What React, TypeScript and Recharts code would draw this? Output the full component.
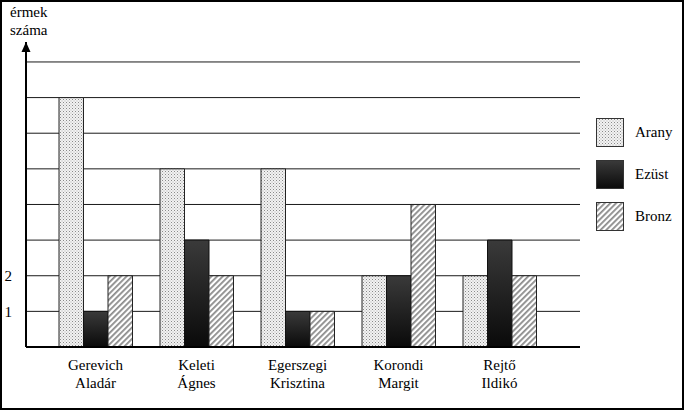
import React from "react";
import { BarChart, Bar, XAxis, YAxis, CartesianGrid } from "recharts";

const names = ["Gerevich\nAladár", "Keleti\nÁgnes", "Egerszegi\nKrisztina", "Korondi\nMargit", "Rejtő\nIldikó"];
const arany = [7, 5, 5, 2, 2];
const ezust = [1, 3, 1, 2, 3];
const bronz = [2, 2, 1, 4, 2];
const yTicks = [1, 2, 3, 4, 5, 6, 7, 8];
const shownTicks = [1, 2];

const data = names.map((name, i) => ({ name, arany: arany[i], ezust: ezust[i], bronz: bronz[i] }));

const FONT = "Liberation Serif, Times New Roman, serif";

const Patterns = ({ p }: { p: string }) => (
  <defs>
    <pattern id={p + "dots"} width="3" height="3" patternUnits="userSpaceOnUse">
      <rect width="3" height="3" fill="#f2f2f2" />
      <rect x="0" y="0" width="1" height="1" fill="#8a8a8a" />
      <rect x="1.5" y="1.5" width="1" height="1" fill="#b0b0b0" />
    </pattern>
    <linearGradient id={p + "dark"} x1="0" y1="0" x2="0" y2="1">
      <stop offset="0%" stopColor="#3a3a3a" />
      <stop offset="100%" stopColor="#0a0a0a" />
    </linearGradient>
    <pattern id={p + "stripes"} width="4" height="4" patternUnits="userSpaceOnUse" patternTransform="rotate(45)">
      <rect width="4" height="4" fill="#ffffff" />
      <rect x="0" y="0" width="1.8" height="4" fill="#8c8c8c" />
    </pattern>
  </defs>
);

const NameTick = (props: any) => {
  const { x, y, payload } = props;
  const lines = String(payload.value).split("\n");
  return (
    <text x={x} y={y} textAnchor="middle" style={{ fontFamily: FONT }} fontSize={15} fill="#000">
      {lines.map((l, i) => (
        <tspan key={i} x={x} dy={i === 0 ? 15 : 18}>
          {l}
        </tspan>
      ))}
    </text>
  );
};

const AxisHead = (props: any) => {
  const vb = props.viewBox || {};
  const ax = vb.x + vb.width;
  const top = vb.y;
  return (
    <g>
      <polygon points={`${ax},${top} ${ax - 4.5},${top + 10} ${ax + 4.5},${top + 10}`} fill="#000" />
      <text x={10} y={17} style={{ fontFamily: FONT }} fontSize={15} fill="#000">érmek</text>
      <text x={10} y={35} style={{ fontFamily: FONT }} fontSize={15} fill="#000">száma</text>
    </g>
  );
};

const legendItems = [
  { label: "Arany", fill: "url(#lgdots)" },
  { label: "Ezüst", fill: "url(#lgdark)" },
  { label: "Bronz", fill: "url(#lgstripes)" },
];

const LegendBox = () => (
  <svg width={90} height={130} style={{ display: "block" }}>
    <Patterns p="lg" />
    {legendItems.map((it, i) => (
      <g key={it.label} transform={`translate(0, ${i * 42})`}>
        <rect x={6.5} y={8.5} width={27} height={28} fill={it.fill} stroke="#333" strokeWidth={1} />
        <text x={45} y={27} style={{ fontFamily: FONT }} fontSize={15} fill="#000">{it.label}</text>
      </g>
    ))}
  </svg>
);

export default function App() {
  return (
    <div style={{ position: "absolute", left: 0, top: 0, width: 684, height: 410, background: "#fff", fontFamily: FONT }}>
      <BarChart
        width={684}
        height={410}
        data={data}
        margin={{ top: 42, right: 104, bottom: 3, left: 0 }}
        barGap={0}
        barSize={24.5}
      >
        <Patterns p="ch" />
        <CartesianGrid vertical={false} horizontalValues={yTicks} stroke="#1a1a1a" strokeWidth={1} />
        <XAxis
          dataKey="name"
          interval={0}
          height={60}
          padding={{ left: 19, right: 30 }}
          axisLine={{ stroke: "#000", strokeWidth: 2 }}
          tickLine={false}
          tick={<NameTick />}
        />
        <YAxis
          width={26}
          domain={[0, 8.56]}
          ticks={yTicks}
          allowDataOverflow
          axisLine={{ stroke: "#000", strokeWidth: 2 }}
          tickLine={false}
          tickMargin={8}
          tickFormatter={(v: number) => (shownTicks.includes(v) ? String(v) : "")}
          tick={{ fontFamily: FONT, fontSize: 15, fill: "#000" }}
          label={<AxisHead />}
        />
        <Bar dataKey="arany" name="Arany" fill="url(#chdots)" stroke="#222" strokeWidth={1} isAnimationActive={false} />
        <Bar dataKey="ezust" name="Ezüst" fill="url(#chdark)" stroke="#111" strokeWidth={1} isAnimationActive={false} />
        <Bar dataKey="bronz" name="Bronz" fill="url(#chstripes)" stroke="#222" strokeWidth={1} isAnimationActive={false} />
      </BarChart>
      <div style={{ position: "absolute", left: 590, top: 110 }}>
        <LegendBox />
      </div>
      <div
        style={{
          position: "absolute",
          left: 0,
          top: 0,
          width: 684,
          height: 410,
          boxSizing: "border-box",
          border: "2px solid #000",
          pointerEvents: "none",
        }}
      />
    </div>
  );
}
